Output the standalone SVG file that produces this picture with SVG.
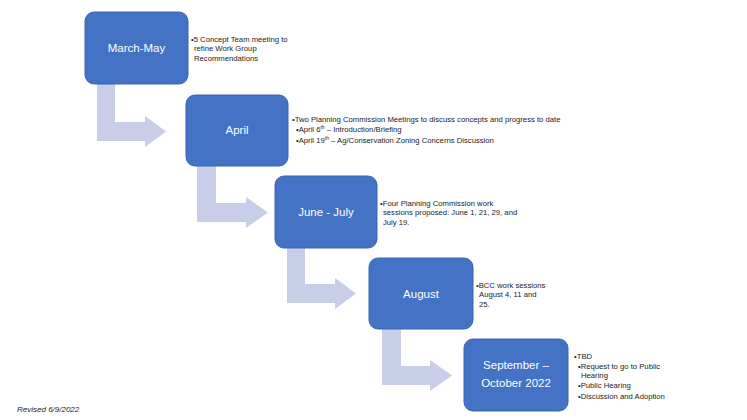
<svg xmlns="http://www.w3.org/2000/svg" width="747" height="420" viewBox="0 0 747 420">
<style>
.box{fill:#4472c4;stroke:#3b64b0;stroke-width:1}
.lbl{font-family:"Liberation Sans",Arial,sans-serif;font-size:11.5px;fill:#ffffff;text-anchor:middle}
.txt{font-family:"Liberation Sans",Arial,sans-serif;font-size:7.7px;fill:#222222}
.arr{fill:#c8cde8}
.sup{font-size:5px}
</style>
<rect width="747" height="420" fill="#ffffff"/>
<g id="connectors">
<path class="arr" d="M97,84 H115 V122 H145 V116 L166,131.5 L145,147 V141 H97 Z"/>
<path class="arr" d="M197,166 H216 V203 H246 V197 L268,212.5 L246,228 V222 H197 Z"/>
<path class="arr" d="M287,248 H305 V284 H335 V278 L356,293.5 L335,309 V303 H287 Z"/>
<path class="arr" d="M382,329 H401 V366 H430 V360 L452,375.5 L430,391 V385 H382 Z"/>
</g>
<g id="n1">
<rect class="box" x="85" y="12" width="103" height="72" rx="9"/>
<text class="lbl" x="136.5" y="52">March-May</text>
<text class="txt" x="191" y="41.5">•5 Concept Team meeting to</text>
<text class="txt" x="194" y="51">refine Work Group</text>
<text class="txt" x="194" y="61">Recommendations</text>
</g>
<g id="n2">
<rect class="box" x="186" y="95" width="102" height="71" rx="9"/>
<text class="lbl" x="237" y="134">April</text>
<text class="txt" x="292" y="121.5">•Two Planning Commission Meetings to discuss concepts and progress to date</text>
<text class="txt" x="296" y="131.5">•April 6<tspan class="sup" dy="-2.5">th</tspan><tspan dy="2.5"> – Introduction/Briefing</tspan></text>
<text class="txt" x="296" y="142.5">•April 19<tspan class="sup" dy="-2.5">th</tspan><tspan dy="2.5"> – Ag/Conservation Zoning Concerns Discussion</tspan></text>
</g>
<g id="n3">
<rect class="box" x="275" y="176" width="102" height="72" rx="9"/>
<text class="lbl" x="326" y="216">June - July</text>
<text class="txt" x="380" y="205.5">•Four Planning Commission work</text>
<text class="txt" x="383" y="215">sessions proposed: June 1, 21, 29, and</text>
<text class="txt" x="383" y="224.5">July 19.</text>
</g>
<g id="n4">
<rect class="box" x="369" y="258" width="104" height="71" rx="9"/>
<text class="lbl" x="421" y="298">August</text>
<text class="txt" x="476" y="287.5">•BCC work sessions</text>
<text class="txt" x="479" y="297">August 4, 11 and</text>
<text class="txt" x="479" y="306.5">25.</text>
</g>
<g id="n5">
<rect class="box" x="464" y="339" width="104" height="72" rx="9"/>
<text class="lbl" x="516" y="369">September –</text>
<text class="lbl" x="516" y="387">October 2022</text>
<text class="txt" x="574" y="358.5">•TBD</text>
<text class="txt" x="578" y="368.5">•Request to go to Public</text>
<text class="txt" x="581" y="378">Hearing</text>
<text class="txt" x="578" y="388">•Public Hearing</text>
<text class="txt" x="578" y="398.5">•Discussion and Adoption</text>
</g>
<text x="17" y="412" font-family="'Liberation Sans',Arial,sans-serif" font-size="8px" font-style="italic" fill="#222222">Revised 6/9/2022</text>
</svg>
